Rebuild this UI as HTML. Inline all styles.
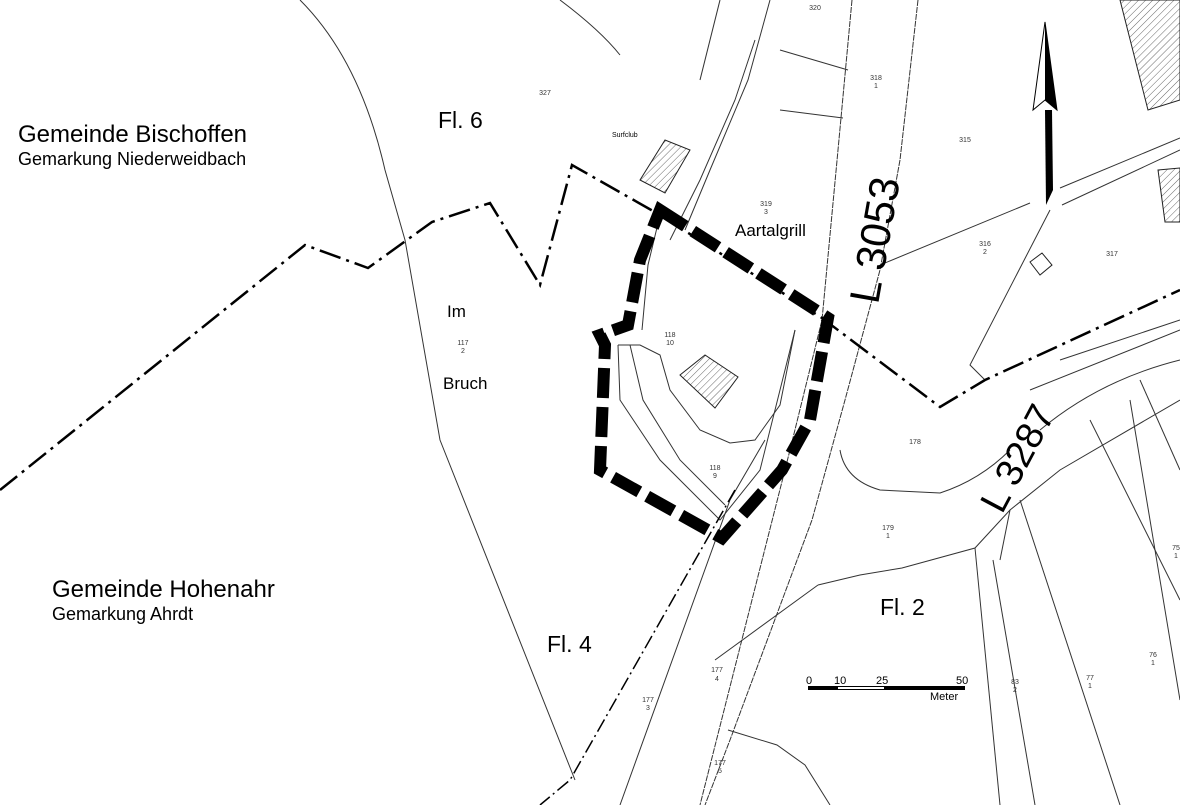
<!DOCTYPE html>
<html><head><style>
html,body{margin:0;padding:0;background:#fff;}
svg{display:block;font-family:"Liberation Sans",Arial,sans-serif;}
.t{stroke:#333;stroke-width:1;fill:none;}
.s{font-size:7px;fill:#333;text-anchor:middle;}
</style></head><body>
<svg width="1180" height="805" viewBox="0 0 1180 805" xmlns="http://www.w3.org/2000/svg">
<rect width="1180" height="805" fill="#fff"/>
<g class="t">
<path d="M300 0 Q360 60 385 170 L405 240 L440 440 L575 780"/>
<path d="M560 0 Q600 30 620 55"/>
<path d="M720 0 L700 80"/>
<path d="M770 0 L748 80 L710 170 L685 230"/>
<path d="M755 40 L735 100 L700 180 L670 240"/>
<path d="M852 0 L838 150 L822 320 L790 450 L700 805" stroke-dasharray="6,1"/>
<path d="M918 0 L900 160 L880 270 L845 400 L812 520 L730 740 L705 805" stroke-dasharray="6,1"/>
<path d="M620 805 L730 500 L765 440"/>
<path d="M780 50 L848 70"/>
<path d="M780 110 L843 118"/>
<path d="M880 265 L1030 203"/>
<path d="M1060 188 L1180 138"/>
<path d="M1062 205 L1180 150"/>
<path d="M1050 210 L970 365 L985 380"/>
<path d="M840 450 Q845 480 880 490 L940 493 Q980 480 1010 450"/>
<path d="M818 585 L860 575 L902 568 L975 548 L1010 510 L1060 470 L1180 400"/>
<path d="M975 548 L1000 805"/>
<path d="M993 560 L1035 805"/>
<path d="M1000 560 L1010 510"/>
<path d="M1020 500 L1120 805"/>
<path d="M1030 390 L1180 330"/>
<path d="M1060 360 L1180 320"/>
<path d="M1040 430 Q1100 380 1180 360"/>
<path d="M1090 420 L1180 600"/>
<path d="M1140 380 L1180 470"/>
<path d="M1130 400 L1180 700"/>
<path d="M818 585 L715 660"/>
<path d="M728 730 L777 745 L805 765 L830 805"/>
<path d="M642 330 L648 265 L660 215"/>
<path d="M618 345 L640 345 L660 355 L670 390 L700 430 L730 443 L755 440 L780 405 L795 330"/>
<path d="M618 345 L620 400 L660 460 L720 520 L760 470 L795 330"/>
<path d="M630 345 L643 400 L680 460 L725 505"/>
</g>
<defs><pattern id="h" width="5" height="5" patternUnits="userSpaceOnUse" patternTransform="rotate(45)"><line x1="0" y1="0" x2="0" y2="5" stroke="#444" stroke-width="0.8"/></pattern></defs>
<g stroke="#222" fill="url(#h)">
<polygon points="680,375 705,355 738,377 715,408"/>
<polygon points="640,180 665,140 690,150 665,193"/>
<polygon points="1120,0 1180,0 1180,100 1148,110"/>
<polygon points="1158,170 1180,168 1180,222 1165,222"/>
<polygon points="1030,262 1042,253 1052,265 1040,275" fill="none"/>
</g>
<path d="M0 490 L305 245 L368 268 L432 222 L490 203 L540 285 L572 165 L660 215 L822 318 L940 407 L985 380 L1180 290" fill="none" stroke="#000" stroke-width="2.5" stroke-dasharray="22,6,3,6"/>
<path d="M735 490 L570 780 L540 805" fill="none" stroke="#000" stroke-width="1.5" stroke-dasharray="14,4,2,4"/>
<path d="M660 210 L828 318 L810 420 L782 470 L722 538 L600 470 L605 345 L600 335 L628 325 L640 260 Z" fill="none" stroke="#000" stroke-width="12" stroke-dasharray="30,9"/>
<polygon points="1045,22 1033,110 1045,100 1057,110" fill="#fff" stroke="#000"/>
<polygon points="1045,22 1045,100 1057,110" fill="#000"/>
<polygon points="1045,110 1052,110 1053,190 1046,205" fill="#000"/>
<rect x="808" y="686" width="157" height="4" fill="#000"/>
<rect x="838" y="687" width="46" height="2" fill="#fff"/>
<g font-size="11" fill="#000">
<text x="806" y="684">0</text><text x="834" y="684">10</text><text x="876" y="684">25</text><text x="956" y="684">50</text>
<text x="930" y="700" font-size="11">Meter</text>
</g>
<g fill="#000">
<text x="18" y="142" font-size="24">Gemeinde Bischoffen</text>
<text x="18" y="165" font-size="18">Gemarkung Niederweidbach</text>
<text x="52" y="597" font-size="24">Gemeinde Hohenahr</text>
<text x="52" y="620" font-size="18">Gemarkung Ahrdt</text>
<text x="438" y="128" font-size="23">Fl. 6</text>
<text x="547" y="652" font-size="23">Fl. 4</text>
<text x="880" y="615" font-size="23">Fl. 2</text>
<text x="447" y="317" font-size="17">Im</text>
<text x="443" y="389" font-size="17">Bruch</text>
<text x="735" y="236" font-size="17">Aartalgrill</text>
<text x="612" y="137" font-size="7">Surfclub</text>
<text font-size="42" transform="translate(878,305) rotate(-80)">L 3053</text>
<text font-size="38" transform="translate(1002,515) rotate(-62)">L 3287</text>
</g>
<g class="s">
<text x="545" y="95">327</text><text x="815" y="10">320</text><text x="876" y="80">318</text><text x="876" y="88">1</text>
<text x="965" y="142">315</text><text x="766" y="206">319</text><text x="766" y="214">3</text>
<text x="985" y="246">316</text><text x="985" y="254">2</text><text x="1112" y="256">317</text>
<text x="463" y="345">117</text><text x="463" y="353">2</text>
<text x="670" y="337">118</text><text x="670" y="345">10</text>
<text x="715" y="470">118</text><text x="715" y="478">9</text>
<text x="915" y="444">178</text><text x="888" y="530">179</text><text x="888" y="538">1</text>
<text x="717" y="672">177</text><text x="717" y="681">4</text>
<text x="648" y="702">177</text><text x="648" y="710">3</text>
<text x="720" y="765">177</text><text x="720" y="773">5</text>
<text x="1015" y="684">83</text><text x="1015" y="692">2</text>
<text x="1090" y="680">77</text><text x="1090" y="688">1</text>
<text x="1153" y="657">76</text><text x="1153" y="665">1</text>
<text x="1176" y="550">75</text><text x="1176" y="558">1</text>
</g>
</svg>
</body></html>
